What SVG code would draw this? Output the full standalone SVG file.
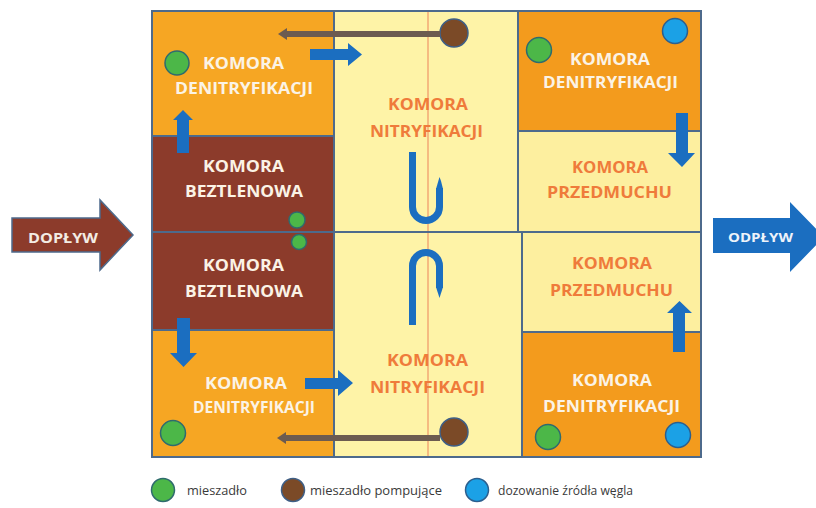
<svg xmlns="http://www.w3.org/2000/svg" width="816" height="508" viewBox="0 0 816 508">
<style>
.box{stroke:#4d6a8c;stroke-width:2}
.den{fill:#f6a623}
.denr{fill:#f39b1d}
.bez{fill:#8c3b2b}
.nit{fill:#fef3a7}
.prz{fill:#fdef9f}
.lw{font-family:"Open Sans","Liberation Sans",sans-serif;font-weight:bold;font-size:16.5px;fill:#fbf3e6;text-anchor:middle}
.lo{font-family:"Open Sans","Liberation Sans",sans-serif;font-weight:bold;font-size:16.5px;fill:#ef7b3b;text-anchor:middle}
.leg{font-family:"Open Sans","Liberation Sans",sans-serif;font-size:12.5px;fill:#3a3a3a}
.gr{fill:#4cb748;stroke:#2f6b6e;stroke-width:1.5}
.br{fill:#7b4a27;stroke:#3f5f86;stroke-width:1.5}
.bl{fill:#1ba1e6;stroke:#2c5f8e;stroke-width:1.5}
.ba{fill:#1b6ec0}
.bu{fill:none;stroke:#1b6ec0;stroke-width:7}
.pl{stroke:#6c5b50;stroke-width:6}
.pa{fill:#6c5b50}
</style>
<rect width="816" height="508" fill="#ffffff"/>

<g id="den-tl"><rect class="box den" x="152" y="11" width="182" height="125"/>
<text class="lw" x="243.5" y="69" textLength="81" lengthAdjust="spacingAndGlyphs">KOMORA</text>
<text class="lw" x="244" y="94" textLength="138" lengthAdjust="spacingAndGlyphs">DENITRYFIKACJI</text>
<circle class="gr" cx="177" cy="63" r="12"/></g>

<g id="bez-t"><rect class="box bez" x="152" y="136" width="182" height="96"/>
<text class="lw" x="243.5" y="172" textLength="81" lengthAdjust="spacingAndGlyphs">KOMORA</text>
<text class="lw" x="244" y="197" textLength="118" lengthAdjust="spacingAndGlyphs">BEZTLENOWA</text></g>

<g id="bez-b"><rect class="box bez" x="152" y="232" width="182" height="98"/>
<text class="lw" x="243.5" y="271" textLength="81" lengthAdjust="spacingAndGlyphs">KOMORA</text>
<text class="lw" x="244" y="297" textLength="118" lengthAdjust="spacingAndGlyphs">BEZTLENOWA</text></g>

<g id="den-bl"><rect class="box den" x="152" y="330" width="182" height="127"/>
<text class="lw" x="246" y="389" textLength="82" lengthAdjust="spacingAndGlyphs">KOMORA</text>
<text class="lw" x="254" y="413" textLength="122" lengthAdjust="spacingAndGlyphs">DENITRYFIKACJI</text>
<circle class="gr" cx="173" cy="433" r="12.5"/></g>

<g id="nit-t"><rect class="box nit" x="334" y="11" width="184" height="221"/>
<line x1="428" y1="12" x2="428" y2="231" stroke="#f2a874" stroke-width="1.5"/>
<text class="lo" x="428" y="110" textLength="80" lengthAdjust="spacingAndGlyphs">KOMORA</text>
<text class="lo" x="426.5" y="137" textLength="113" lengthAdjust="spacingAndGlyphs">NITRYFIKACJI</text>
<circle class="br" cx="454" cy="33" r="14"/></g>

<g id="nit-b"><rect class="box nit" x="334" y="232" width="188" height="225"/>
<line x1="428" y1="233" x2="428" y2="456" stroke="#f2a874" stroke-width="1.5"/>
<text class="lo" x="427.5" y="366" textLength="81" lengthAdjust="spacingAndGlyphs">KOMORA</text>
<text class="lo" x="427.5" y="393" textLength="115" lengthAdjust="spacingAndGlyphs">NITRYFIKACJI</text>
<circle class="br" cx="454" cy="432" r="14"/></g>

<g id="den-tr"><rect class="box denr" x="518" y="11" width="183" height="120"/>
<text class="lw" x="610" y="65" textLength="80" lengthAdjust="spacingAndGlyphs">KOMORA</text>
<text class="lw" x="610.5" y="88" textLength="135" lengthAdjust="spacingAndGlyphs">DENITRYFIKACJI</text>
<circle class="gr" cx="539" cy="50" r="12.5"/>
<circle class="bl" cx="675" cy="31" r="12.5"/></g>

<g id="prz-t"><rect class="box prz" x="518" y="131" width="183" height="101"/>
<text class="lo" x="610" y="173" textLength="76" lengthAdjust="spacingAndGlyphs">KOMORA</text>
<text class="lo" x="609.5" y="198" textLength="125" lengthAdjust="spacingAndGlyphs">PRZEDMUCHU</text></g>

<g id="prz-b"><rect class="box prz" x="522" y="232" width="179" height="100"/>
<text class="lo" x="612" y="269" textLength="80" lengthAdjust="spacingAndGlyphs">KOMORA</text>
<text class="lo" x="611.5" y="296" textLength="123" lengthAdjust="spacingAndGlyphs">PRZEDMUCHU</text></g>

<g id="den-br"><rect class="box denr" x="522" y="332" width="179" height="125"/>
<text class="lw" x="612" y="386" textLength="80" lengthAdjust="spacingAndGlyphs">KOMORA</text>
<text class="lw" x="611.5" y="412" textLength="137" lengthAdjust="spacingAndGlyphs">DENITRYFIKACJI</text>
<circle class="gr" cx="548" cy="437" r="12.5"/>
<circle class="bl" cx="678" cy="435" r="12.5"/></g>

<g id="mix-mid">
<circle class="gr" cx="297" cy="220" r="8"/>
<circle class="gr" cx="299" cy="242" r="7.5"/></g>

<g id="doplyw">
<polygon points="12,218 100,218 100,200 133,235 100,270 100,252 12,252" fill="#8c3b2b" stroke="#4d6a8c" stroke-width="1.5"/>
<text x="63" y="243" font-family="'Open Sans','Liberation Sans',sans-serif" font-weight="bold" font-size="13.5" fill="#f3ece4" text-anchor="middle" textLength="70" lengthAdjust="spacingAndGlyphs">DOPŁYW</text></g>

<g id="odplyw">
<polygon points="713,218 790,218 790,202 824,237 790,272 790,253 713,253" fill="#1b6ec0"/>
<text x="760.5" y="242" font-family="'Open Sans','Liberation Sans',sans-serif" font-weight="bold" font-size="13" fill="#eef3fa" text-anchor="middle" textLength="65" lengthAdjust="spacingAndGlyphs">ODPŁYW</text></g>

<g id="connectors">
<line class="pl" x1="440" y1="34" x2="285" y2="34"/>
<polygon class="pa" points="278,34 287,28 287,40"/>
<line class="pl" x1="440" y1="438" x2="284" y2="438"/>
<polygon class="pa" points="277,438 286,432 286,444"/>
<polygon class="ba" points="310,49 348,49 348,43 362,54.5 348,66 348,60 310,60"/>
<polygon class="ba" points="177,153 177,120 173,120 183,110 193,120 189,120 189,153"/>
<polygon class="ba" points="177,318 190,318 190,353 197,353 183.5,367 170,353 177,353"/>
<polygon class="ba" points="305,378 338,378 338,370 353,383 338,396 338,389 305,389"/>
<polygon class="ba" points="676,113 688,113 688,153 695,153 682,167 668,153 676,153"/>
<polygon class="ba" points="673,352 673,313 667,313 679.5,301 692,313 685,313 685,352"/>
<path class="bu" d="M412.5,152 V207 A13.5,13.5 0 0 0 439.5,207 V188"/>
<polygon class="ba" points="436,189 443,189 441,181 439.5,177"/>
<path class="bu" d="M412.5,325 V266 A13.5,13.5 0 0 1 439.5,266 V288"/>
<polygon class="ba" points="436,287 443,287 439.5,298"/>
</g>

<g id="legend">
<circle class="gr" cx="163" cy="490" r="11.5"/>
<text class="leg" x="187" y="494.5" textLength="60" lengthAdjust="spacingAndGlyphs">mieszadło</text>
<circle class="br" cx="293" cy="490" r="11.5"/>
<text class="leg" x="310" y="494.5" textLength="132" lengthAdjust="spacingAndGlyphs">mieszadło pompujące</text>
<circle class="bl" cx="477" cy="490" r="11.5"/>
<text class="leg" x="498" y="494.5" textLength="135" lengthAdjust="spacingAndGlyphs">dozowanie źródła węgla</text>
</g>
</svg>
